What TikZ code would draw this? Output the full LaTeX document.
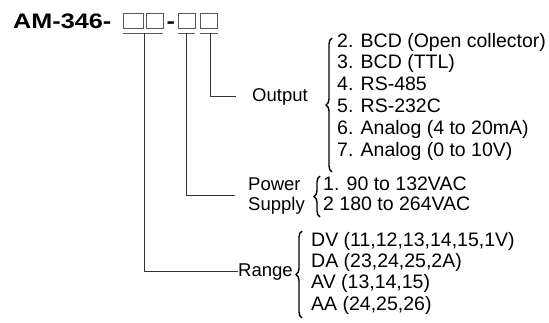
\documentclass[tikz,border=0pt]{standalone}
\usepackage{fontspec}
\usepackage{graphicx}
\setmainfont{Liberation Sans}
\usetikzlibrary{decorations.pathreplacing}
\begin{document}
\begin{tikzpicture}[x=1pt,y=-1pt,
  lab/.style={inner sep=0pt, anchor=base west, font=\fontsize{18.5}{21}\selectfont},
  item/.style={inner sep=0pt, anchor=base west, font=\fontsize{19.5}{21}\selectfont},
  ttl/.style={inner sep=0pt, anchor=base west, font=\bfseries\fontsize{21}{21}\selectfont},
  boxc/.style={draw=black!65, line width=0.8pt, inner sep=0pt, minimum height=15pt},
  uline/.style={draw=black!65, line width=0.8pt},
  conn/.style={draw=black!80, line width=0.9pt},
  brc/.style={draw=black, decorate, decoration={brace, amplitude=6pt}, line width=1.4pt}
]
\useasboundingbox (0,0) rectangle (549,322);

% title and code boxes
\node[ttl] (title) at (13,28) {\scalebox{1.2}[1]{AM-346-}};
\node[boxc, minimum width=20pt]   (b1) at (133.3,20.8) {};
\node[boxc, minimum width=16.7pt] (b2) at (155,20.8) {};
\node[ttl] (dash) at (166.5,28) {\scalebox{1.2}[1]{-}};
\node[boxc, minimum width=16.7pt] (b3) at (186.7,20.8) {};
\node[boxc, minimum width=17.7pt] (b4) at (208.8,20.8) {};

% underlines
\draw[uline] (123.3,33.3) -- (163.3,33.3);
\draw[uline] (178.3,33.3) -- (195,33.3);
\draw[uline] (200,33.3) -- (218.3,33.3);

\coordinate (r0) at (144,33.3);
\coordinate (p0) at (186,33.3);
\coordinate (o0) at (210.7,33.3);
\coordinate (o1) at (236,96);
\coordinate (p1) at (235,195);
\coordinate (r1) at (237.5,271.7);

% labels
\node[lab] (output) at (252,101.7) {Output};
\node[lab] (power) at (248,190) {Power};
\node[lab] (supply) at (248,210) {Supply};
\node[lab] (range) at (238,276.7) {Range};

% connectors
\draw[conn] (o0) |- (o1);
\draw[conn] (p0) |- (p1);
\draw[conn] (r0) |- (r1);

% braces
\draw[brc] (332,172) -- (332,38);
\draw[brc] (320,217) -- (320,176);
\draw[brc] (302,318) -- (302,231);

% output items
\node[item] (o2) at (337,47)    {2. BCD (Open collector)};
\node[item] (o3) at (337,68.8)  {3. BCD (TTL)};
\node[item] (o4) at (337,90.6)  {4. RS-485};
\node[item] (o5) at (337,112.4) {5. RS-232C};
\node[item] (o6) at (337,134.2) {6. Analog (4 to 20mA)};
\node[item] (o7) at (337,156)   {7. Analog (0 to 10V)};

% power items
\node[item] (s1) at (323,190) {1. 90 to 132VAC};
\node[item] (s2) at (323,210) {2 180 to 264VAC};

% range items
\node[item] (dv) at (311,246)   {DV (11,12,13,14,15,1V)};
\node[item] (da) at (311,267)   {DA (23,24,25,2A)};
\node[item] (av) at (311,288.5) {AV (13,14,15)};
\node[item] (aa) at (311,310)   {AA (24,25,26)};
\end{tikzpicture}
\end{document}
